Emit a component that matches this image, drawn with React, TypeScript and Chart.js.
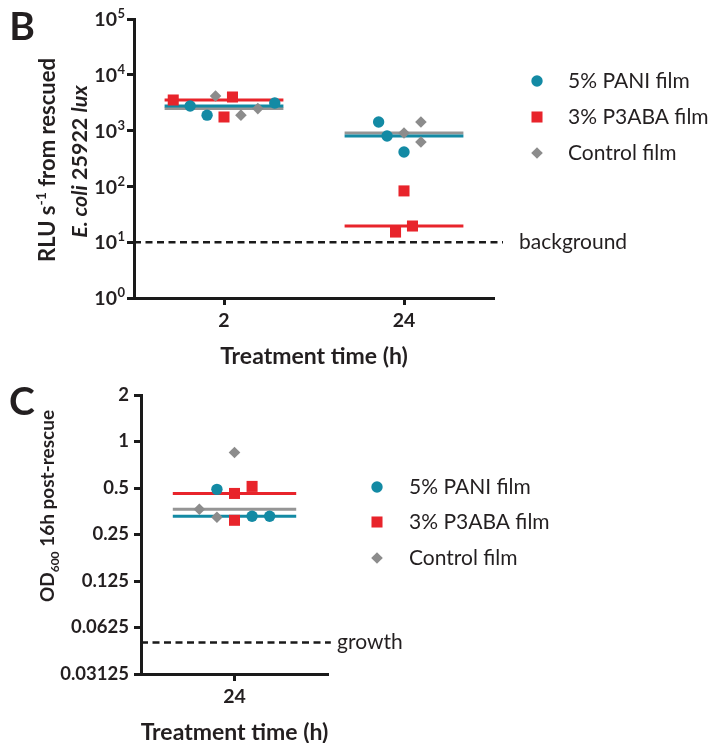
import React, { useEffect, useRef } from 'react';
import { Chart, registerables } from 'chart.js';

Chart.register(...registerables);

const FONT = 'Lato, "Open Sans", "DejaVu Sans", sans-serif';
const INK = '#231f20';
const AXIS = '#1a1a1a';
const TEAL = '#138aa4';
const RED = '#e8242b';
const GREY = '#8c8c8c';
const GREY_LINE = '#959595';

// ---------- Panel B data ----------
const B_TIMES = ['2', '24'];
const B_Y_TICKS = [1, 10, 100, 1000, 10000, 100000];
const B_BACKGROUND = 10;
const B_PANI = [[2760, 1890, 3125], [1426, 800, 413]];
const B_P3ABA = [[3535, 4000, 1754], [83, 15.2, 19.5]];
const B_CONTROL = [[4170, 1890, 2480], [906, 1426, 625]];
// horizontal scatter offsets (in symbol steps) as plotted
const B_PANI_JITTER = [[-4, -2, 6], [-3, -2, 0]];
const B_P3ABA_JITTER = [[-6, 1, 0], [0, -1, 1]];
const B_CONTROL_JITTER = [[-1, 2, 4], [0, 2, 2]];

// ---------- Panel C data ----------
const C_TIMES = ['24'];
const C_Y_TICKS = [0.03125, 0.0625, 0.125, 0.25, 0.5, 1, 2];
const C_GROWTH = 0.05;
const C_PANI = [[0.49, 0.328, 0.328]];
const C_P3ABA = [[0.461, 0.512, 0.309]];
const C_CONTROL = [[0.849, 0.364, 0.323]];
const C_PANI_JITTER = [[-2, 2, 4]];
const C_P3ABA_JITTER = [[0, 2, 0]];
const C_CONTROL_JITTER = [[0, -4, -2]];

const SERIES_NAMES = ['5% PANI film', '3% P3ABA film', 'Control film'];

const JITTER_STEP = 0.047;
const LINE_HALF = 0.33;

type Shape = 'circle' | 'rect' | 'rectRot';
type SeriesStyle = { name: string; color: string; line: string; shape: Shape; radius: number; lineOrder: number };

const STYLES: SeriesStyle[] = [
  { name: SERIES_NAMES[0], color: TEAL, line: TEAL, shape: 'circle', radius: 5.7, lineOrder: 11 },
  { name: SERIES_NAMES[1], color: RED, line: RED, shape: 'rect', radius: 7.8, lineOrder: 10 },
  { name: SERIES_NAMES[2], color: GREY, line: GREY_LINE, shape: 'rectRot', radius: 5.8, lineOrder: 12 },
];

function median(a: number[]) {
  const s = [...a].sort((p, q) => p - q);
  const n = s.length;
  return n % 2 ? s[(n - 1) / 2] : (s[n / 2 - 1] + s[n / 2]) / 2;
}

function buildDatasets(groups: number[][][], jitters: number[][][], refValue: number, refExtra: number, nCats: number) {
  const datasets: any[] = [];
  groups.forEach((values, si) => {
    const st = STYLES[si];
    datasets.push({
      label: st.name,
      data: values.flatMap((vals, ci) => vals.map((v, k) => ({ x: ci + jitters[si][ci][k] * JITTER_STEP, y: v }))),
      pointStyle: st.shape,
      pointRadius: st.radius,
      pointHoverRadius: st.radius,
      backgroundColor: st.color,
      borderColor: st.color,
      borderWidth: 0,
      showLine: false,
      order: 1 + si,
    });
    values.forEach((vals, ci) => {
      const m = median(vals);
      datasets.push({
        label: st.name + ' median',
        data: [{ x: ci - LINE_HALF, y: m }, { x: ci + LINE_HALF, y: m }],
        showLine: true,
        borderColor: st.line,
        backgroundColor: st.line,
        borderWidth: 3,
        pointRadius: 0,
        order: st.lineOrder,
      });
    });
  });
  datasets.push({
    label: 'threshold',
    data: [{ x: -0.5, y: refValue }, { x: nCats - 0.5 + refExtra, y: refValue }],
    showLine: true,
    borderColor: AXIS,
    borderWidth: 2.5,
    borderDash: [7, 4.5],
    pointRadius: 0,
    clip: false,
    order: 20,
  });
  return datasets;
}

type Seg = { t: string; italic?: boolean; sup?: boolean; sub?: boolean };

function segFont(s: Seg, size: number) {
  const sz = s.sup || s.sub ? Math.round(size * 0.62) : size;
  return `${s.italic ? 'italic ' : ''}bold ${sz}px ${FONT}`;
}

function drawRich(ctx: CanvasRenderingContext2D, segs: Seg[], cx: number, cy: number, size: number, rotate: boolean) {
  ctx.save();
  ctx.translate(cx, cy);
  if (rotate) ctx.rotate(-Math.PI / 2);
  ctx.textAlign = 'left';
  ctx.textBaseline = 'alphabetic';
  const widths = segs.map((s) => {
    ctx.font = segFont(s, size);
    return ctx.measureText(s.t).width;
  });
  const total = widths.reduce((a, b) => a + b, 0);
  let x = -total / 2;
  const base = size * 0.36;
  segs.forEach((s, i) => {
    ctx.font = segFont(s, size);
    const dy = s.sup ? -size * 0.42 : s.sub ? size * 0.22 : 0;
    ctx.fillText(s.t, x, base + dy);
    x += widths[i];
  });
  ctx.restore();
}

function drawMarker(ctx: CanvasRenderingContext2D, shape: Shape, x: number, y: number, r: number, color: string) {
  ctx.fillStyle = color;
  ctx.beginPath();
  if (shape === 'circle') ctx.arc(x, y, r, 0, Math.PI * 2);
  else if (shape === 'rect') {
    const h = r * Math.SQRT1_2;
    ctx.rect(x - h, y - h, 2 * h, 2 * h);
  } else {
    ctx.moveTo(x - r, y);
    ctx.lineTo(x, y - r);
    ctx.lineTo(x + r, y);
    ctx.lineTo(x, y + r);
    ctx.closePath();
  }
  ctx.fill();
}

type DecorSpec = {
  letter: string;
  letterPos: [number, number];
  yTitles: { x: number; y: number; size: number; segs: Seg[] }[];
  xTitleY: number;
  xTitleSize: number;
  legend: { x: number; textX: number; ys: number[] };
  ref: { text: string; x: number; value: number };
  powerTicks?: number[];
};

function decor(spec: DecorSpec) {
  return {
    id: 'decor',
    afterDraw(chart: any) {
      const ctx: CanvasRenderingContext2D = chart.ctx;
      const area = chart.chartArea;
      const ys = chart.scales.y;
      ctx.save();
      ctx.fillStyle = INK;
      // panel letter
      ctx.font = `bold 39px ${FONT}`;
      ctx.textAlign = 'center';
      ctx.textBaseline = 'alphabetic';
      ctx.fillText(spec.letter, spec.letterPos[0], spec.letterPos[1] + 14);
      // y titles
      spec.yTitles.forEach((t) => drawRich(ctx, t.segs, t.x, t.y, t.size, true));
      // x title
      drawRich(ctx, [{ t: 'Treatment time (h)' }], (area.left + area.right) / 2, spec.xTitleY, spec.xTitleSize, false);
      // power-of-ten tick labels
      if (spec.powerTicks) {
        spec.powerTicks.forEach((v) => {
          const y = ys.getPixelForValue(v);
          const exp = String(Math.round(Math.log10(v)));
          ctx.fillStyle = INK;
          ctx.textBaseline = 'middle';
          ctx.font = `bold 13px ${FONT}`;
          const ew = ctx.measureText(exp).width;
          ctx.textAlign = 'left';
          ctx.fillText(exp, 125 - ew, y - 5);
          ctx.font = `bold 19.5px ${FONT}`;
          ctx.textAlign = 'right';
          ctx.fillText('10', 125 - ew - 0.5, y + 1);
        });
      }
      // legend
      STYLES.forEach((st, i) => {
        drawMarker(ctx, st.shape, spec.legend.x, spec.legend.ys[i], st.radius, st.color);
        ctx.fillStyle = INK;
        ctx.font = `21px ${FONT}`;
        ctx.textAlign = 'left';
        ctx.textBaseline = 'middle';
        ctx.fillText(st.name, spec.legend.textX, spec.legend.ys[i]);
      });
      // reference line label
      ctx.fillStyle = INK;
      ctx.font = `21px ${FONT}`;
      ctx.textAlign = 'left';
      ctx.textBaseline = 'middle';
      ctx.fillText(spec.ref.text, spec.ref.x, ys.getPixelForValue(spec.ref.value));
      ctx.restore();
    },
  };
}

function axisStyle() {
  return {
    grid: { display: true, drawOnChartArea: false, drawTicks: true, tickLength: 7, tickWidth: 3, tickColor: AXIS, color: AXIS },
    border: { display: true, width: 3, color: AXIS },
  };
}

function makeConfig(opts: {
  cats: string[];
  groups: number[][][];
  jitters: number[][][];
  refValue: number;
  refExtra: number;
  yMin: number;
  yMax: number;
  yTicks: number[];
  showYLabels: boolean;
  yWidth: number;
  xHeight: number;
  rightPad: number;
  spec: DecorSpec;
}): any {
  return {
    type: 'scatter',
    data: { datasets: buildDatasets(opts.groups, opts.jitters, opts.refValue, opts.refExtra, opts.cats.length) },
    options: {
      responsive: false,
      animation: false,
      events: [],
      layout: { padding: { left: 0, right: opts.rightPad, top: 19, bottom: 0 } },
      plugins: { legend: { display: false }, tooltip: { enabled: false } },
      scales: {
        x: {
          type: 'linear',
          min: -0.5,
          max: opts.cats.length - 0.5,
          afterBuildTicks: (s: any) => {
            s.ticks = opts.cats.map((_, i) => ({ value: i }));
          },
          afterFit: (s: any) => {
            s.height = opts.xHeight;
          },
          ticks: {
            callback: (v: number) => opts.cats[v],
            font: { family: FONT, size: 19.5, weight: 'bold' },
            color: INK,
            padding: 4,
            maxRotation: 0,
            autoSkip: false,
          },
          ...axisStyle(),
        },
        y: {
          type: 'logarithmic',
          min: opts.yMin,
          max: opts.yMax,
          afterBuildTicks: (s: any) => {
            s.ticks = opts.yTicks.map((value) => ({ value }));
          },
          afterFit: (s: any) => {
            s.width = opts.yWidth;
          },
          ticks: {
            display: opts.showYLabels,
            callback: (v: number) => String(v),
            font: { family: FONT, size: 18.5, weight: 'bold' },
            color: INK,
            padding: 5,
          },
          ...axisStyle(),
        },
      },
    },
    plugins: [decor(opts.spec)],
  };
}

export default function App() {
  const bRef = useRef<HTMLCanvasElement>(null);
  const cRef = useRef<HTMLCanvasElement>(null);

  useEffect(() => {
    Chart.defaults.font.family = FONT;
    const b = new Chart(
      bRef.current as HTMLCanvasElement,
      makeConfig({
        cats: B_TIMES,
        groups: [B_PANI, B_P3ABA, B_CONTROL],
        jitters: [B_PANI_JITTER, B_P3ABA_JITTER, B_CONTROL_JITTER],
        refValue: B_BACKGROUND,
        refExtra: 0.05,
        yMin: B_Y_TICKS[0],
        yMax: B_Y_TICKS[B_Y_TICKS.length - 1],
        yTicks: B_Y_TICKS,
        showYLabels: false,
        yWidth: 134,
        xHeight: 376 - 298,
        rightPad: 716 - 494,
        spec: {
          letter: 'B',
          letterPos: [22, 26],
          yTitles: [
            { x: 47.5, y: 160, size: 22, segs: [{ t: 'RLU s' }, { t: '-1', sup: true }, { t: ' from rescued' }] },
            { x: 79.5, y: 161.5, size: 21.5, segs: [{ t: 'E. coli', italic: true }, { t: ' 25922 ' }, { t: 'lux', italic: true }] },
          ],
          xTitleY: 356,
          xTitleSize: 23,
          legend: { x: 537, textX: 568, ys: [81, 117, 153] },
          ref: { text: 'background', x: 519, value: B_BACKGROUND },
          powerTicks: B_Y_TICKS,
        },
      })
    );
    const c = new Chart(
      cRef.current as HTMLCanvasElement,
      makeConfig({
        cats: C_TIMES,
        groups: [C_PANI, C_P3ABA, C_CONTROL],
        jitters: [C_PANI_JITTER, C_P3ABA_JITTER, C_CONTROL_JITTER],
        refValue: C_GROWTH,
        refExtra: 0.015,
        yMin: C_Y_TICKS[0],
        yMax: C_Y_TICKS[C_Y_TICKS.length - 1],
        yTicks: C_Y_TICKS,
        showYLabels: true,
        yWidth: 141,
        xHeight: 367 - 298,
        rightPad: 716 - 328,
        spec: {
          letter: 'C',
          letterPos: [22, 25],
          yTitles: [{ x: 47.5, y: 130, size: 19, segs: [{ t: 'OD' }, { t: '600', sub: true }, { t: ' 16h post-rescue' }] }],
          xTitleY: 356,
          xTitleSize: 23,
          legend: { x: 377, textX: 409, ys: [111, 146, 182] },
          ref: { text: 'growth', x: 337, value: C_GROWTH },
        },
      })
    );
    return () => {
      b.destroy();
      c.destroy();
    };
  }, []);

  return (
    <div style={{ position: 'absolute', left: 0, top: 0, width: 716, height: 743, background: '#ffffff' }}>
      <canvas ref={bRef} width={716} height={376} style={{ position: 'absolute', left: 0, top: 0, width: 716, height: 376 }} />
      <canvas ref={cRef} width={716} height={367} style={{ position: 'absolute', left: 0, top: 376, width: 716, height: 367 }} />
    </div>
  );
}
